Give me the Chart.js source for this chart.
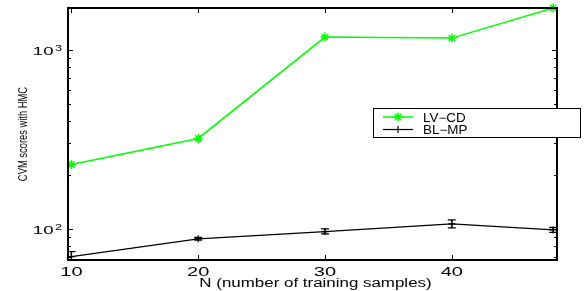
<!DOCTYPE html>
<html><head><meta charset="utf-8">
<script src="https://cdn.jsdelivr.net/npm/chart.js@4.4.1/dist/chart.umd.min.js"></script>
<style>html,body{margin:0;padding:0;background:#fff;}#wrap{width:585px;height:291px;}</style>
</head><body><div id="wrap"><canvas id="c" width="585" height="291"></canvas></div>
<script>
const nValues = [10, 20, 30, 40, 48];
const lvcd = [229, 320, 1178, 1163, 1713];
const blmp = [70, 88, 96.6, 106.7, 98.7];
const blmpLow = [66, 86.5, 93.8, 101.3, 95.5];
const blmpHigh = [74.6, 89.5, 100, 112.3, 101.8];
const xTicks = [10, 20, 30, 40];
const xTickLabels = ['10', '20', '30', '40'];
const yMajorTicks = [100, 1000];
const yTickExp = ['2', '3'];
const yMinorTicks = [70, 80, 90, 200, 300, 400, 500, 600, 700, 800, 900];
const xRange = [9.73, 48.3];
const yRange = [67, 1713];
const seriesNames = ['LV\u2212CD', 'BL\u2212MP'];
const xTitle = 'N (number of training samples)';
const yTitle = 'CVM scores with HMC';

const FONT = '"Liberation Sans", Arial, Helvetica, sans-serif';

function sText(ctx, txt, x, y, size, sx, align, base) {
  ctx.save();
  ctx.translate(x, y);
  ctx.scale(sx, 1);
  ctx.font = size + 'px ' + FONT;
  ctx.textAlign = align || 'left';
  ctx.textBaseline = base || 'alphabetic';
  ctx.fillStyle = '#000';
  ctx.fillText(txt, 0, 0);
  ctx.restore();
}

const decor = {
  id: 'decor',
  afterDatasetsDraw(chart) {
    const ctx = chart.ctx, a = chart.chartArea;
    const xs = chart.scales.x, ys = chart.scales.y;
    // error bars
    ctx.save();
    ctx.beginPath(); ctx.rect(a.left, a.top, a.right - a.left, a.bottom - a.top); ctx.clip();
    ctx.strokeStyle = '#000'; ctx.lineWidth = 1.3;
    nValues.forEach((n, i) => {
      const px = xs.getPixelForValue(n);
      const y1 = ys.getPixelForValue(blmpLow[i]);
      const y2 = ys.getPixelForValue(blmpHigh[i]);
      ctx.beginPath();
      ctx.moveTo(px, y1); ctx.lineTo(px, y2);
      ctx.moveTo(px - 4, y1); ctx.lineTo(px + 4, y1);
      ctx.moveTo(px - 4, y2); ctx.lineTo(px + 4, y2);
      ctx.stroke();
    });
    ctx.restore();
    // box
    ctx.save();
    ctx.strokeStyle = '#000';
    ctx.lineWidth = 2;
    ctx.strokeRect(a.left, a.top, a.right - a.left, a.bottom - a.top);
    ctx.lineWidth = 1;
    ctx.beginPath();
    xTicks.forEach(v => {
      const px = Math.round(xs.getPixelForValue(v)) + 0.5;
      ctx.moveTo(px, a.bottom); ctx.lineTo(px, a.bottom - 5);
      ctx.moveTo(px, a.top); ctx.lineTo(px, a.top + 5);
    });
    yMajorTicks.forEach(v => {
      const py = Math.round(ys.getPixelForValue(v)) + 0.5;
      ctx.moveTo(a.left, py); ctx.lineTo(a.left + 5, py);
      ctx.moveTo(a.right, py); ctx.lineTo(a.right - 5, py);
    });
    yMinorTicks.forEach(v => {
      const py = Math.round(ys.getPixelForValue(v)) + 0.5;
      ctx.moveTo(a.left, py); ctx.lineTo(a.left + 3, py);
      ctx.moveTo(a.right, py); ctx.lineTo(a.right - 3, py);
    });
    ctx.stroke();
    ctx.restore();
    // x tick labels
    xTicks.forEach((v, i) => {
      sText(ctx, xTickLabels[i], xs.getPixelForValue(v), 276, 12.5, 1.6, 'center');
    });
    // y tick labels
    yMajorTicks.forEach((v, i) => {
      const py = ys.getPixelForValue(v);
      sText(ctx, '10', 53.5, py + 5.5, 11.5, 1.62, 'right');
      sText(ctx, yTickExp[i], 55, py + 1.5, 8.5, 1.5, 'left');
    });
    // titles
    sText(ctx, xTitle, (a.left + a.right) / 2 + 3, 287, 12, 1.41, 'center');
    ctx.save();
    ctx.translate(27, (a.top + a.bottom) / 2);
    ctx.scale(1.34, 1);
    ctx.rotate(-Math.PI / 2);
    ctx.font = '9.4px ' + FONT;
    ctx.textAlign = 'center'; ctx.textBaseline = 'alphabetic'; ctx.fillStyle = '#000';
    ctx.fillText(yTitle, 0, 0);
    ctx.restore();
    // legend
    ctx.save();
    ctx.fillStyle = '#fff';
    ctx.fillRect(373, 108, 208, 30);
    ctx.strokeStyle = '#000'; ctx.lineWidth = 1;
    ctx.strokeRect(373.5, 108.5, 207, 29);
    const rows = [117, 129.5];
    chart.data.datasets.forEach((ds, i) => {
      const yy = rows[i];
      ctx.strokeStyle = ds.borderColor; ctx.lineWidth = ds.borderWidth;
      ctx.beginPath(); ctx.moveTo(383, yy); ctx.lineTo(413, yy); ctx.stroke();
      Chart.helpers.drawPoint(ctx, {pointStyle: ds.pointStyle, radius: ds.pointRadius, borderWidth: ds.pointBorderWidth}, 398, yy);
      sText(ctx, ds.label, 423, yy + 4.5, 12, 1.12, 'left');
    });
    ctx.restore();
  }
};

new Chart(document.getElementById('c'), {
  type: 'line',
  data: {
    datasets: [
      { label: seriesNames[0], data: nValues.map((n, i) => ({x: n, y: lvcd[i]})),
        borderColor: '#00ff00', backgroundColor: '#00ff00', borderWidth: 1.5,
        pointStyle: 'star', pointRadius: 4.5, pointBorderWidth: 1.5, pointBorderColor: '#00ff00', clip: false, tension: 0 },
      { label: seriesNames[1], data: nValues.map((n, i) => ({x: n, y: blmp[i]})),
        borderColor: '#000000', backgroundColor: '#000000', borderWidth: 1.2,
        pointStyle: 'cross', pointRadius: 3.5, pointBorderWidth: 1.2, pointBorderColor: '#000', clip: false, tension: 0 }
    ]
  },
  options: {
    responsive: false, animation: false, devicePixelRatio: 1,
    layout: { padding: { left: 0, right: 28, top: 8, bottom: 0 } },
    plugins: { legend: { display: false }, tooltip: { enabled: false } },
    scales: {
      x: { type: 'linear', min: xRange[0], max: xRange[1],
        grid: { display: false }, border: { display: false },
        ticks: { display: false },
        afterBuildTicks: s => { s.ticks = xTicks.map(v => ({value: v})); },
        afterFit: s => { s.height = 31; } },
      y: { type: 'logarithmic', min: yRange[0], max: yRange[1],
        grid: { display: false }, border: { display: false },
        ticks: { display: false },
        afterBuildTicks: s => { s.ticks = yMajorTicks.map(v => ({value: v})); },
        afterFit: s => { s.width = 68; } }
    }
  },
  plugins: [decor]
});
</script></body></html>
